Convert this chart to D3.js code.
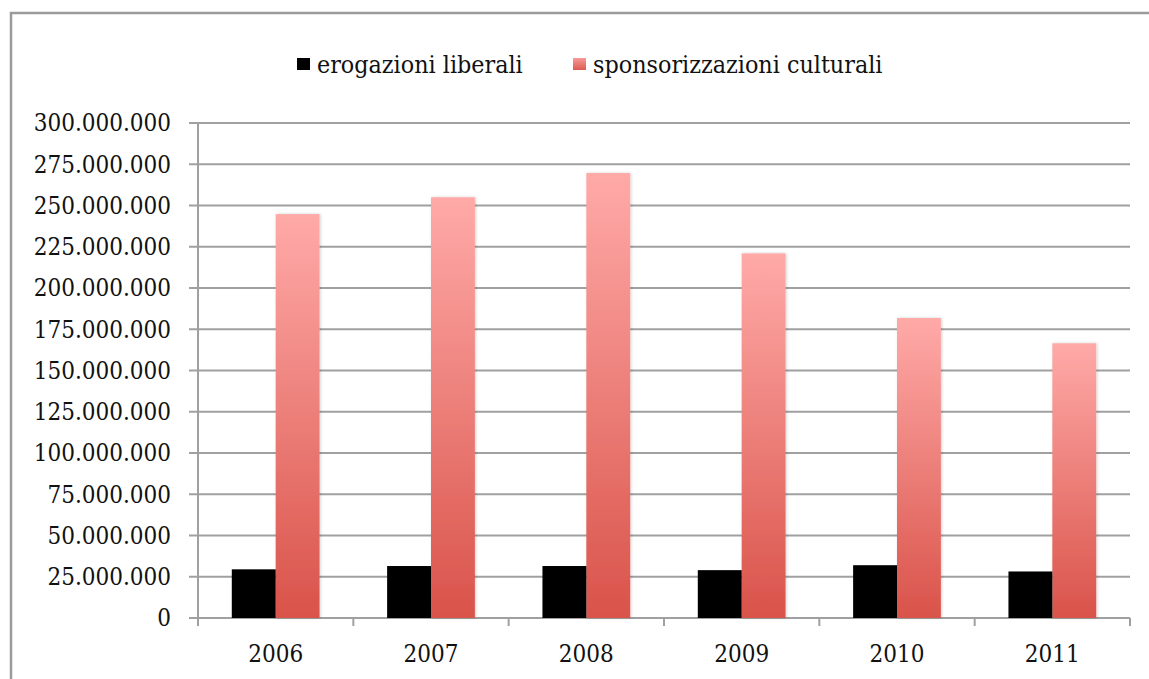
<!DOCTYPE html>
<html>
<head>
<meta charset="utf-8">
<script src="https://cdn.jsdelivr.net/npm/d3@7"></script>
<style>
  body { margin: 0; background: #fff; }
  svg text { font-family: "DejaVu Serif Condensed", "DejaVu Serif", serif; font-stretch: condensed; fill: #111; }
</style>
</head>
<body>
<svg id="chart"></svg>
<script>
const years = ['2006', '2007', '2008', '2009', '2010', '2011']
const series = ['erogazioni liberali', 'sponsorizzazioni culturali']
const erogazioni = [29500000, 31500000, 31500000, 29000000, 32000000, 28200000]
const sponsorizzazioni = [244800000, 255000000, 269700000, 221000000, 181800000, 166500000]
const yTicks = d3.range(0, 300000001, 25000000)

let width = 1149,
	height = 679,
	margin = {top: 123, right: 19, bottom: 61, left: 198}

let svg = d3.select('svg#chart')
	.attr('width', width)
	.attr('height', height)

// outer chart frame (runs off the right and bottom edge)
svg.append('rect')
	.attr('x', 11).attr('y', 13)
	.attr('width', width + 20).attr('height', height + 20)
	.attr('fill', 'none')
	.attr('stroke', '#9a9a9a')
	.attr('stroke-width', 2.5)

let defs = svg.append('defs')
let grad = defs.append('linearGradient')
	.attr('id', 'redGrad')
	.attr('x1', 0).attr('y1', 1).attr('x2', 0).attr('y2', 0)
grad.append('stop').attr('offset', '0%').attr('stop-color', '#d9534a')
grad.append('stop').attr('offset', '100%').attr('stop-color', '#ffaaa8')

let shadow = defs.append('filter').attr('id', 'shadow')
	.attr('x', '-20%').attr('y', '-5%').attr('width', '140%').attr('height', '110%')
shadow.append('feDropShadow')
	.attr('dx', 1).attr('dy', 0).attr('stdDeviation', 1.5)
	.attr('flood-color', '#000').attr('flood-opacity', 0.18)

let x0 = d3.scaleBand()
	.domain(years)
	.range([margin.left, width - margin.right])
	.padding(0)

let x1 = d3.scaleBand()
	.domain(series)
	.range([0, x0.bandwidth()])
	.paddingInner(0)
	.paddingOuter(0.77)

let y = d3.scaleLinear()
	.domain([0, 300000000])
	.range([height - margin.bottom, margin.top])

let fmt = d => d3.format(',')(d).replace(/,/g, '.')

// gridlines
svg.append('g')
	.selectAll('line')
	.data(yTicks)
	.join('line')
	.attr('x1', margin.left - 9)
	.attr('x2', width - margin.right)
	.attr('y1', d => y(d))
	.attr('y2', d => y(d))
	.attr('stroke', '#a0a0a0')
	.attr('stroke-width', 2)

// y labels
svg.append('g')
	.selectAll('text')
	.data(yTicks)
	.join('text')
	.attr('x', 171)
	.attr('y', d => y(d))
	.attr('dy', '0.35em')
	.attr('text-anchor', 'end')
	.style('font-size', '24px')
	.text(fmt)

// y axis line
svg.append('line')
	.attr('x1', margin.left).attr('x2', margin.left)
	.attr('y1', margin.top).attr('y2', y(0) + 8)
	.attr('stroke', '#a0a0a0').attr('stroke-width', 2)

// x ticks at band edges
let edges = years.map(d => x0(d)).concat([x0(years[years.length - 1]) + x0.bandwidth()])
svg.append('g')
	.selectAll('line')
	.data(edges.slice(1))
	.join('line')
	.attr('x1', d => d).attr('x2', d => d)
	.attr('y1', y(0)).attr('y2', y(0) + 8)
	.attr('stroke', '#a0a0a0').attr('stroke-width', 2)

// bars
let groups = svg.append('g')
	.selectAll('g')
	.data(years)
	.join('g')
	.attr('transform', d => `translate(${x0(d)},0)`)

groups.append('rect')
	.attr('x', x1(series[1]))
	.attr('width', x1.bandwidth())
	.attr('y', (d, i) => y(sponsorizzazioni[i]))
	.attr('height', (d, i) => y(0) - y(sponsorizzazioni[i]))
	.attr('fill', 'url(#redGrad)')
	.attr('filter', 'url(#shadow)')

groups.append('rect')
	.attr('x', x1(series[0]))
	.attr('width', x1.bandwidth())
	.attr('y', (d, i) => y(erogazioni[i]))
	.attr('height', (d, i) => y(0) - y(erogazioni[i]))
	.attr('fill', '#000')

// x labels
groups.append('text')
	.attr('x', x0.bandwidth() / 2)
	.attr('y', 662)
	.attr('text-anchor', 'middle')
	.style('font-size', '24px')
	.text(d => d)

// legend
let legend = svg.append('g')
let legendItems = [
	{name: series[0], x: 297, fill: '#000'},
	{name: series[1], x: 573, fill: 'url(#legendGrad)'}
]
let lg = defs.append('linearGradient')
	.attr('id', 'legendGrad')
	.attr('x1', 0).attr('y1', 1).attr('x2', 0).attr('y2', 0)
lg.append('stop').attr('offset', '0%').attr('stop-color', '#dc5a52')
lg.append('stop').attr('offset', '100%').attr('stop-color', '#f79a96')

legend.selectAll('rect')
	.data(legendItems)
	.join('rect')
	.attr('x', d => d.x)
	.attr('y', 58)
	.attr('width', 13)
	.attr('height', 12)
	.attr('fill', d => d.fill)

legend.selectAll('text')
	.data(legendItems)
	.join('text')
	.attr('x', d => d.x + 20)
	.attr('y', 73)
	.style('font-size', '24.8px')
	.text(d => d.name)
</script>
</body>
</html>
